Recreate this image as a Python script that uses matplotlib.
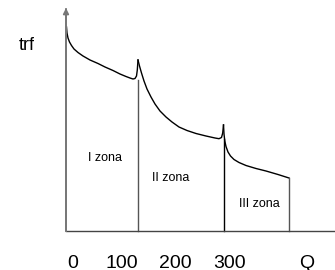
import matplotlib
matplotlib.use('Agg')
import matplotlib.pyplot as plt

plt.rcParams['font.family'] = ['Liberation Sans', 'DejaVu Sans']

# schematic curve (x to the right of the y axis, y above the Q axis)
seg1_x = [0.5, 1, 2, 3.5, 5.5, 8, 12, 17, 24, 32, 39, 47, 54, 60, 64, 67, 69, 70.5, 71.3, 72]
seg1_y = [204, 198, 193, 189, 185.5, 182, 178.5, 175, 171, 167.5, 164, 160.5, 157, 154.5, 153, 152, 152.5, 155, 161, 171]
seg2_x = [72, 73.5, 75.5, 78, 81, 85, 89, 94, 100, 106, 113, 121, 130, 140, 149, 153, 155.5, 156.7, 157.5]
seg2_y = [171, 165, 158, 150, 142, 134, 127, 120, 114, 109, 104, 100.5, 97.5, 95, 93, 92.3, 93.5, 98, 106]
seg3_x = [157.5, 158, 158.8, 160, 162, 164.5, 168, 173, 180, 190, 200, 212, 223]
seg3_y = [106, 97, 90, 84.5, 79, 75, 71.5, 68.5, 65.5, 62.5, 60, 56.5, 53]

# zone boundaries (x, top of the line)
bound_x = [72, 157.5, 223]
bound_top = [151, 92, 53]
bound_col = ['#555555', '#000000', '#555555']

tick_pos = [7, 56, 109, 164, 241]
tick_labels = ['0', '100', '200', '300', 'Q']
zone_pos = [(39, 73), (105, 53), (193, 27)]
zone_labels = ['I zona', 'II zona', 'III zona']

fig = plt.figure(figsize=(3.35, 2.70), dpi=100)
ax = fig.add_axes([0, 0, 1, 1])
ax.set_xlim(-66, 269)
ax.set_ylim(-39, 231)
ax.axis('off')

for xs, ys in [(seg1_x, seg1_y), (seg2_x, seg2_y), (seg3_x, seg3_y)]:
    ax.plot(xs, ys, color='black', linewidth=1.0, solid_joinstyle='round')

for x, top, c in zip(bound_x, bound_top, bound_col):
    ax.plot([x, x], [0, top], color=c, linewidth=1.0)

# axes
ax.plot([0, 269], [0, 0], color='#444444', linewidth=1.0)
ax.annotate('', xy=(0, 223), xytext=(0, 0),
            arrowprops=dict(arrowstyle='-|>', color='#777777', lw=1.3,
                            mutation_scale=8, shrinkA=0, shrinkB=0))
ax.plot([0, 0], [0, 222], color='#777777', linewidth=1.3)

ax.text(-39, 185, 'trf', fontsize=13, ha='center', va='center')
for (x, y), lab in zip(zone_pos, zone_labels):
    ax.text(x, y, lab, fontsize=9, ha='center', va='center')
for x, lab in zip(tick_pos, tick_labels):
    ax.text(x, -32, lab, fontsize=14, ha='center', va='center')

fig.savefig('out.png', dpi=100)
